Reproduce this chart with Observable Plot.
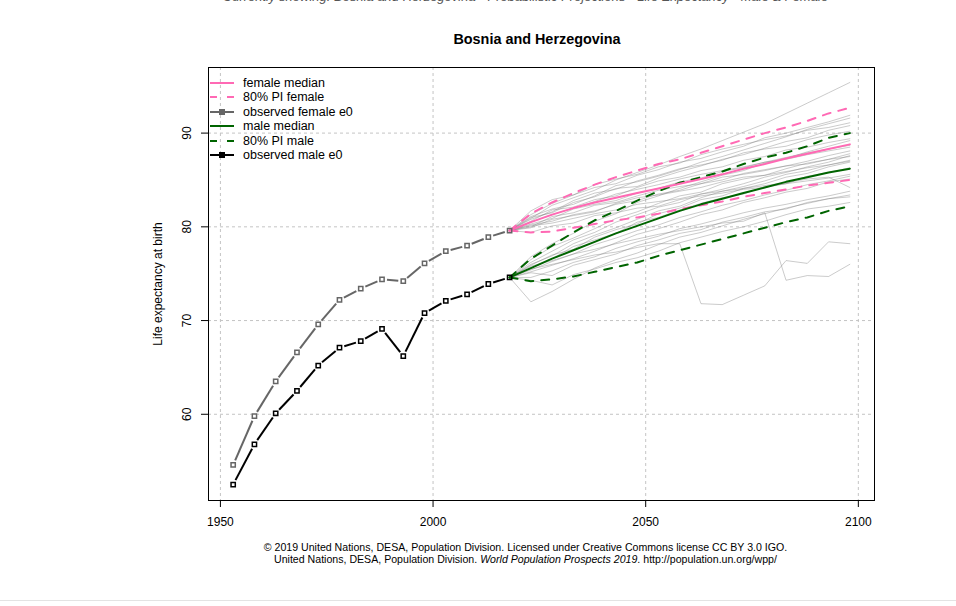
<!DOCTYPE html>
<html>
<head>
<meta charset="utf-8">
<script src="https://cdn.jsdelivr.net/npm/d3@7"></script>
<script src="https://cdn.jsdelivr.net/npm/@observablehq/plot@0.6"></script>
<style>
  body { margin: 0; background: #fff; }
  #page { position: relative; width: 956px; height: 606px; overflow: hidden; background: #fff; font-family: "Liberation Sans", Arial, sans-serif; }
  #topline { position: absolute; top: -11px; left: 0; width: 1051px; text-align: center; font-size: 13px; font-style: italic; color: #555; white-space: nowrap; }
  #title { position: absolute; top: 31px; left: 204px; width: 666px; text-align: center; font-weight: bold; font-size: 14.4px; color: #000; }
  #chart { position: absolute; top: 52px; left: 0; }
  #legend { position: absolute; top: 75.5px; left: 210px; font-size: 12.5px; color: #000; }
  #legend .row { height: 14.5px; line-height: 14.5px; display: flex; align-items: center; white-space: nowrap; }
  #legend svg { margin-right: 9px; }
  #caption { position: absolute; top: 541px; left: 0; width: 1051px; text-align: center; font-size: 10.6px; line-height: 12px; color: #000; }
  #bottomrule { position: absolute; top: 600px; left: 0; width: 956px; border-top: 1px solid #e3e3e3; }
</style>
</head>
<body>
<div id="page">
  <div id="topline">Currently showing: Bosnia and Herzegovina • Probabilistic Projections • Life Expectancy • Male &amp; Female</div>
  <div id="title">Bosnia and Herzegovina</div>
  <div id="chart"></div>
  <div id="legend"></div>
  <div id="caption">© 2019 United Nations, DESA, Population Division. Licensed under Creative Commons license CC BY 3.0 IGO.<br>United Nations, DESA, Population Division. <i>World Population Prospects 2019</i>. http://population.un.org/wpp/</div>
  <div id="bottomrule"></div>
</div>
<script>
// ---------------- data ----------------
const xTicks = [1950, 2000, 2050, 2100];
const yTicks = [60, 70, 80, 90];
const yLabel = "Life expectancy at birth";

const obsYears = [1953, 1958, 1963, 1968, 1973, 1978, 1983, 1988, 1993, 1998, 2003, 2008, 2013, 2018];
const obsFemale = [54.6, 59.8, 63.5, 66.6, 69.6, 72.2, 73.4, 74.4, 74.2, 76.1, 77.4, 78.0, 78.9, 79.6];
const obsMale   = [52.5, 56.8, 60.1, 62.5, 65.2, 67.1, 67.8, 69.1, 66.2, 70.8, 72.1, 72.8, 73.9, 74.6];

const projYears = [2018, 2023, 2028, 2033, 2038, 2043, 2048, 2053, 2058, 2063, 2068, 2073, 2078, 2083, 2088, 2093, 2098];
const femaleMedian = [79.6, 80.5, 81.3, 82.0, 82.6, 83.1, 83.6, 84.1, 84.6, 85.1, 85.6, 86.2, 86.7, 87.3, 87.8, 88.3, 88.8];
const femaleUpper  = [79.6, 81.4, 82.6, 83.6, 84.5, 85.3, 86.0, 86.7, 87.2, 87.9, 88.6, 89.3, 90.0, 90.6, 91.3, 92.1, 92.7];
const femaleLower  = [79.6, 79.4, 79.5, 79.9, 80.3, 80.7, 81.0, 81.4, 81.9, 82.3, 82.7, 83.2, 83.6, 84.0, 84.4, 84.7, 85.0];
const maleMedian   = [74.6, 75.6, 76.6, 77.5, 78.4, 79.3, 80.1, 80.9, 81.7, 82.4, 83.0, 83.6, 84.2, 84.8, 85.3, 85.8, 86.2];
const maleUpper    = [74.6, 76.6, 78.0, 79.4, 80.7, 81.7, 82.8, 83.8, 84.7, 85.3, 85.9, 86.7, 87.4, 87.9, 88.6, 89.5, 90.0];
const maleLower    = [74.6, 74.2, 74.4, 74.7, 75.2, 75.7, 76.2, 76.9, 77.5, 78.1, 78.7, 79.3, 79.9, 80.5, 81.0, 81.7, 82.2];

const femaleTrajectories = [
  [79.6, 80.9, 82.3, 83.1, 83.9, 85.0, 85.8, 86.6, 87.5, 88.3, 89.2, 90.1, 91.0, 92.1, 93.2, 94.3, 95.4],
  [79.6, 81.7, 82.9, 83.4, 84.2, 84.6, 85.5, 86.1, 86.9, 87.3, 88.0, 88.6, 89.5, 90.0, 90.6, 91.2, 91.9],
  [79.6, 80.2, 80.6, 81.3, 81.7, 82.4, 82.8, 83.5, 83.9, 84.6, 85.0, 85.7, 86.1, 86.5, 87.0, 87.6, 88.1],
  [79.6, 79.4, 80.1, 80.4, 81.2, 81.5, 82.0, 82.2, 82.9, 83.3, 83.6, 84.0, 84.2, 84.6, 84.9, 85.2, 85.6],
  [79.6, 81.0, 81.5, 82.6, 83.2, 84.1, 84.3, 85.2, 85.9, 86.5, 87.2, 87.7, 88.4, 89.1, 89.5, 90.3, 90.8],
  [79.6, 80.6, 81.8, 82.1, 82.9, 83.3, 84.2, 84.9, 85.3, 86.0, 86.4, 87.1, 87.5, 88.2, 88.5, 89.0, 89.4],
  [79.6, 80.3, 80.9, 81.9, 82.4, 82.8, 83.6, 84.1, 84.8, 85.2, 85.9, 86.3, 86.9, 87.4, 87.9, 88.3, 88.7],
  [79.6, 79.9, 80.8, 81.2, 81.6, 82.5, 83.1, 83.4, 83.8, 84.2, 84.8, 85.3, 85.5, 85.9, 86.3, 86.6, 87.0],
  [79.6, 81.3, 82.5, 83.4, 84.5, 85.1, 85.6, 86.4, 86.8, 87.7, 88.3, 88.8, 89.3, 89.7, 90.3, 90.6, 91.1],
  [79.6, 80.1, 80.4, 80.9, 81.4, 81.8, 82.4, 82.7, 83.0, 83.5, 83.8, 84.1, 84.4, 84.7, 85.1, 85.3, 84.2],
  [79.6, 80.8, 81.6, 82.8, 83.6, 84.0, 84.9, 85.5, 86.2, 86.6, 87.1, 87.9, 88.3, 88.6, 89.3, 89.8, 90.2],
  [79.6, 80.5, 81.3, 82.0, 82.7, 83.5, 84.0, 84.5, 85.1, 85.6, 86.0, 86.4, 86.9, 87.2, 87.7, 88.1, 88.5],
  [79.6, 80.0, 81.1, 81.5, 82.3, 82.6, 83.3, 83.9, 84.3, 84.6, 85.3, 85.6, 86.0, 86.5, 86.7, 87.2, 87.5],
  [79.6, 81.1, 81.9, 82.4, 83.3, 84.4, 84.8, 85.4, 86.1, 86.9, 87.5, 88.2, 88.9, 89.6, 90.4, 91.0, 91.6]
];
const maleTrajectories = [
  [74.6, 75.5, 76.0, 76.5, 77.0, 77.3, 77.8, 78.2, 78.2, 71.8, 71.7, 72.7, 73.7, 76.4, 76.1, 78.4, 78.2],
  [74.6, 75.8, 76.4, 77.1, 77.6, 78.2, 78.7, 79.2, 79.6, 80.0, 80.4, 80.6, 81.5, 74.3, 74.8, 74.7, 76.0],
  [74.6, 72.0, 73.1, 74.4, 75.6, 76.5, 77.2, 78.1, 78.9, 79.4, 80.1, 80.8, 81.4, 82.0, 82.5, 83.0, 83.4],
  [74.6, 76.8, 78.2, 79.3, 80.6, 81.4, 82.6, 83.3, 84.1, 84.8, 85.5, 86.0, 86.8, 87.3, 88.0, 88.6, 89.2],
  [74.6, 75.9, 77.0, 77.6, 78.9, 79.7, 80.3, 81.4, 82.0, 82.9, 83.3, 84.1, 84.6, 85.3, 85.7, 86.4, 86.9],
  [74.6, 74.6, 75.3, 76.2, 76.8, 77.7, 78.4, 79.0, 79.8, 80.3, 80.9, 81.5, 82.0, 82.4, 82.9, 83.3, 83.8],
  [74.6, 76.2, 77.4, 78.6, 79.4, 80.5, 81.3, 82.1, 82.6, 83.5, 84.0, 84.6, 85.3, 85.8, 86.4, 86.9, 87.6],
  [74.6, 75.4, 76.3, 77.1, 78.1, 78.8, 79.6, 80.2, 81.0, 81.6, 82.3, 82.8, 83.4, 83.9, 84.5, 84.9, 85.4],
  [74.6, 75.1, 74.8, 75.9, 76.5, 77.1, 78.0, 78.6, 79.3, 79.7, 80.5, 81.0, 81.6, 81.9, 82.6, 83.0, 83.2],
  [74.6, 76.5, 77.9, 78.8, 79.8, 80.9, 81.6, 82.5, 83.3, 83.7, 84.6, 85.1, 85.5, 86.2, 86.8, 87.2, 87.8],
  [74.6, 75.6, 76.6, 77.9, 78.6, 79.3, 80.5, 81.0, 81.8, 82.5, 83.1, 83.5, 84.3, 84.6, 85.4, 85.8, 86.3],
  [74.6, 74.3, 73.8, 74.9, 75.5, 76.2, 76.7, 77.4, 78.3, 78.9, 79.5, 80.0, 80.6, 81.3, 81.9, 82.2, 82.6],
  [74.6, 76.0, 76.9, 78.2, 79.1, 79.9, 80.8, 81.7, 82.2, 83.1, 83.8, 84.3, 84.9, 85.6, 86.0, 86.6, 87.1],
  [74.6, 75.2, 75.9, 76.6, 77.4, 78.3, 79.2, 79.8, 80.5, 81.3, 81.8, 82.6, 83.1, 83.7, 84.1, 84.8, 85.1]
];

const legendLabels = ["female median", "80% PI female", "observed female e0", "male median", "80% PI male", "observed male e0"];

// ---------------- styles ----------------
const PINK = "#ff69b4", GREEN = "#006400", FGRAY = "#666666", MBLACK = "#000000";

// ---------------- build rows ----------------
const trajRows = [];
femaleTrajectories.forEach((t, k) => t.forEach((v, i) => trajRows.push({year: projYears[i], v, id: "f" + k})));
maleTrajectories.forEach((t, k) => t.forEach((v, i) => trajRows.push({year: projYears[i], v, id: "m" + k})));

const obsF = obsYears.map((y, i) => ({year: y, v: obsFemale[i]}));
const obsM = obsYears.map((y, i) => ({year: y, v: obsMale[i]}));
const segs = arr => d3.pairs(arr).map(([a, b]) => ({x1: a.year, y1: a.v, x2: b.year, y2: b.v}));

const obsMarks = (data, color) => [
  Plot.arrow(segs(data), {x1: "x1", y1: "y1", x2: "x2", y2: "y2", headLength: 0, insetStart: 5, insetEnd: 5,
    stroke: color, strokeWidth: 2, strokeLinecap: "butt"}),
  Plot.dot(data, {x: "year", y: "v", symbol: "square", r: 2.4, stroke: color, fill: "none", strokeWidth: 1.5})
];

const chart = Plot.plot({
  width: 956,
  height: 483,
  marginLeft: 208,
  marginRight: 82,
  marginTop: 15,
  marginBottom: 35,
  style: {fontFamily: "'Liberation Sans', Arial, sans-serif", fontSize: "12px", color: "#000", background: "transparent", overflow: "visible"},
  x: {domain: [1947.2, 2103.8]},
  y: {domain: [50.8, 97.0]},
  marks: [
    Plot.gridX(xTicks, {stroke: "#c4c4c4", strokeOpacity: 1, strokeDasharray: "3,3"}),
    Plot.gridY(yTicks, {stroke: "#c4c4c4", strokeOpacity: 1, strokeDasharray: "3,3"}),
    Plot.line(trajRows, {x: "year", y: "v", z: "id", stroke: "#777", strokeOpacity: 0.38, strokeWidth: 1}),
    Plot.line(femaleUpper, {x: projYears, y: femaleUpper, stroke: PINK, strokeWidth: 2, strokeDasharray: "8,8"}),
    Plot.line(femaleLower, {x: projYears, y: femaleLower, stroke: PINK, strokeWidth: 2, strokeDasharray: "8,8"}),
    Plot.line(maleUpper, {x: projYears, y: maleUpper, stroke: GREEN, strokeWidth: 2, strokeDasharray: "8,8"}),
    Plot.line(maleLower, {x: projYears, y: maleLower, stroke: GREEN, strokeWidth: 2, strokeDasharray: "8,8"}),
    Plot.line(femaleMedian, {x: projYears, y: femaleMedian, stroke: PINK, strokeWidth: 2}),
    Plot.line(maleMedian, {x: projYears, y: maleMedian, stroke: GREEN, strokeWidth: 2}),
    ...obsMarks(obsF, FGRAY),
    ...obsMarks(obsM, MBLACK),
    Plot.frame({stroke: "#000", strokeWidth: 1}),
    Plot.axisX(xTicks, {tickSize: 7, tickPadding: 10, tickFormat: d => String(d), label: null, fontSize: 12, stroke: "#000"}),
    Plot.axisY(yTicks, {tickSize: 7, tickFormat: () => "", label: null, stroke: "#000"}),
    Plot.text(yTicks, {y: d => d, text: d => String(d), frameAnchor: "left", dx: -21, rotate: -90, textAnchor: "middle", fontSize: 12, fill: "#000"}),
    Plot.text([yLabel], {text: d => d, frameAnchor: "left", dx: -50, rotate: -90, textAnchor: "middle", fontSize: 12, fill: "#000"})
  ]
});
document.getElementById("chart").appendChild(chart);

// ---------------- legend (HTML overlay) ----------------
const swatch = k => {
  const color = [PINK, PINK, FGRAY, GREEN, GREEN, MBLACK][k];
  const dashed = k === 1 || k === 4;
  const marker = k === 2 || k === 5;
  let s = `<svg width="24" height="14" viewBox="0 0 24 14">`;
  s += `<line x1="0" y1="7" x2="24" y2="7" stroke="${color}" stroke-width="2" ${dashed ? 'stroke-dasharray="7,10"' : ""}/>`;
  if (marker) s += `<rect x="9.5" y="4.5" width="5" height="5" fill="${color}" stroke="${color}" stroke-width="1"/>`;
  s += `</svg>`;
  return s;
};
document.getElementById("legend").innerHTML = legendLabels
  .map((lab, k) => `<div class="row">${swatch(k)}<span>${lab}</span></div>`).join("");
</script>
</body>
</html>
